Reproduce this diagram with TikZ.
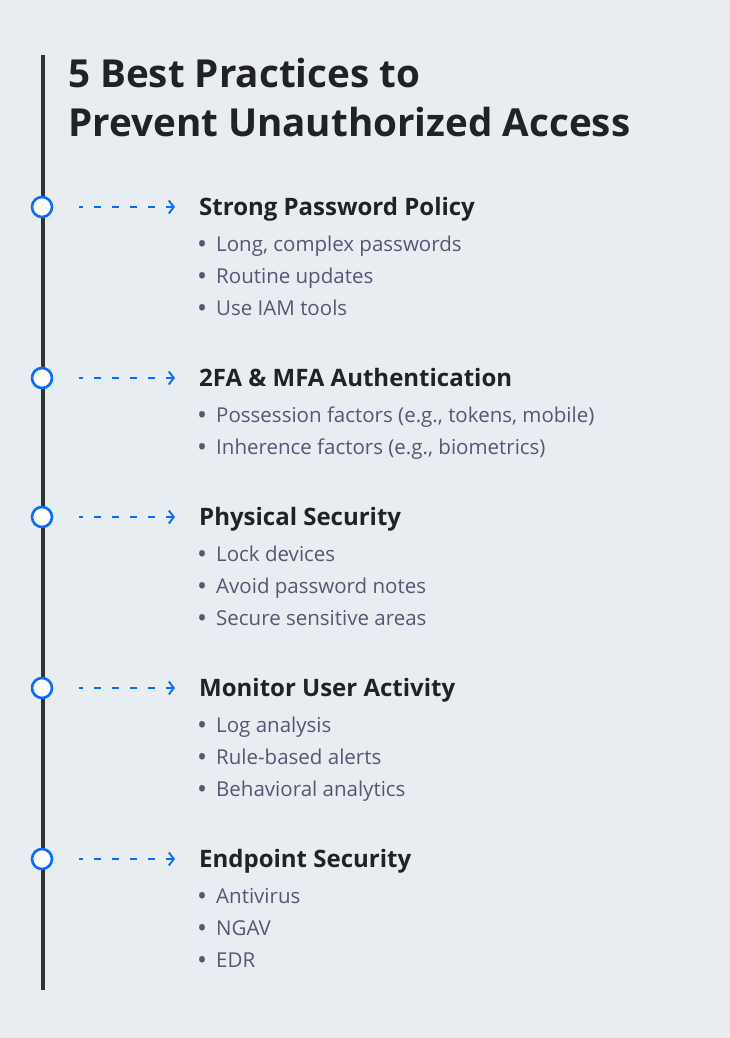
\documentclass[tikz,border=0pt]{standalone}
\usepackage{fontspec}
\setmainfont{Open Sans}
\usetikzlibrary{arrows.meta}
\definecolor{bgcol}{HTML}{E8EDF1}
\definecolor{tlblue}{HTML}{0A6CFF}
\definecolor{linecol}{HTML}{333333}
\definecolor{headcol}{HTML}{222222}
\definecolor{itemcol}{HTML}{545872}
\tikzset{dot/.style = {circle, line width=2.6pt, draw=tlblue, fill=white, minimum size=20pt, inner sep=0pt},
         ttl/.style = {anchor=base west, inner sep=0pt, text=headcol, font=\bfseries\fontsize{38.6}{46}\selectfont},
         head/.style = {anchor=base west, inner sep=0pt, text=headcol, font=\bfseries\fontsize{24}{28}\selectfont},
         item/.style = {anchor=base west, inner sep=0pt, text=itemcol, font=\fontsize{20.5}{24}\selectfont},
         link/.style = {tlblue, line width=1.9pt, dash pattern=on 7pt off 11pt, dash phase=3pt,
                        shorten <=26pt, shorten >=24pt,
                        -{Straight Barb[length=5pt, width=13pt, line width=1.9pt]}}}
\newcommand{\blt}{\llap{\raisebox{-2.6pt}{\scalebox{1.3}{\textbullet}}\hspace{9pt}}}

\begin{document}
\begin{tikzpicture}[x=1pt, y=-1pt]
    \fill[bgcol] (0,0) rectangle (730,1038);
    \useasboundingbox (0,0) rectangle (730,1038);
    % timeline
    \coordinate (top) at (43,55); \coordinate (bot) at (43,990);
    \draw[linecol, line width=3.5pt] (top) -- (bot);
    % title
    \node[ttl] (t1) at (68,88) {5 Best Practices to};
    \node[ttl] (t2) at (68,136) {Prevent Unauthorized Access};
    % stops on the line
    \node[dot] (c1) at (42,207) {}; \node[dot] (c2) at (42,378) {}; \node[dot] (c3) at (42,517) {};
    \node[dot] (c4) at (42,688) {}; \node[dot] (c5) at (42,859) {};
    % headings
    \node[head] (h1) at (199,215) {Strong Password Policy};
    \node[head] (h2) at (199,386) {2FA \& MFA Authentication};
    \node[head] (h3) at (199,525) {Physical Security};
    \node[head] (h4) at (199,696) {Monitor User Activity};
    \node[head] (h5) at (199,867) {Endpoint Security};
    % bullet points
    \node[item] (a1) at (216,251) {\blt Long, complex passwords};
    \node[item] (a2) at (216,283) {\blt Routine updates};
    \node[item] (a3) at (216,315) {\blt Use IAM tools};
    \node[item] (b1) at (216,422) {\blt Possession factors (e.g., tokens, mobile)};
    \node[item] (b2) at (216,454) {\blt Inherence factors (e.g., biometrics)};
    \node[item] (d1) at (216,561) {\blt Lock devices};
    \node[item] (d2) at (216,593) {\blt Avoid password notes};
    \node[item] (d3) at (216,625) {\blt Secure sensitive areas};
    \node[item] (e1) at (216,732) {\blt Log analysis};
    \node[item] (e2) at (216,764) {\blt Rule-based alerts};
    \node[item] (e3) at (216,796) {\blt Behavioral analytics};
    \node[item] (f1) at (216,903) {\blt Antivirus};
    \node[item] (f2) at (216,935) {\blt NGAV};
    \node[item] (f3) at (216,967) {\blt EDR};
    % arrows
    \draw[link] (c1.east) -- (c1.east -| h1.west);
    \draw[link] (c2.east) -- (c2.east -| h2.west);
    \draw[link] (c3.east) -- (c3.east -| h3.west);
    \draw[link] (c4.east) -- (c4.east -| h4.west);
    \draw[link] (c5.east) -- (c5.east -| h5.west);
\end{tikzpicture}
\end{document}
